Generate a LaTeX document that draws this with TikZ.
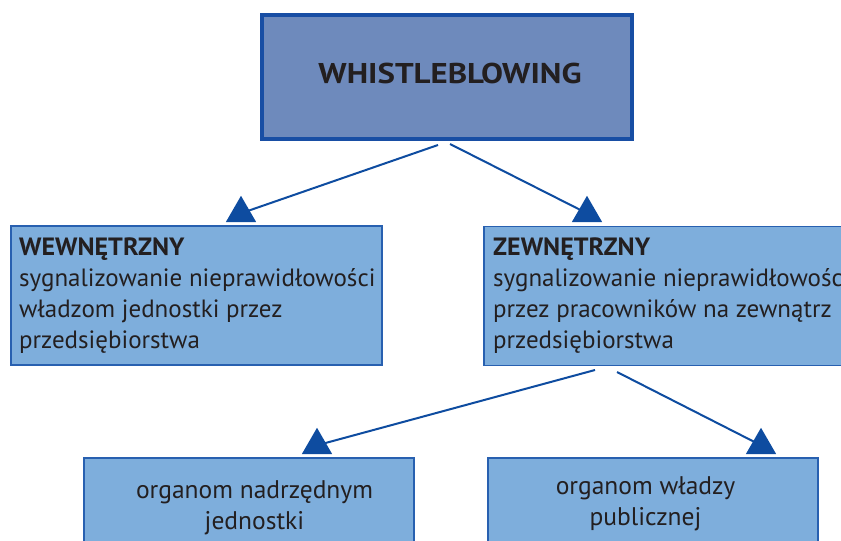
\documentclass[tikz,border=0pt]{standalone}
\usepackage{fontspec}
\setmainfont{PT Sans}
\newfontfamily\titlefont{PT Sans}[FakeStretch=1.15]
\newfontfamily\headfont{PT Sans}[FakeStretch=1.04]
\usetikzlibrary{shapes.geometric}
\definecolor{topfill}{RGB}{110,138,188}
\definecolor{topborder}{RGB}{24,78,164}
\definecolor{boxfill}{RGB}{126,174,220}
\definecolor{boxborder}{RGB}{40,96,176}
\definecolor{arrowcol}{RGB}{14,76,160}
\definecolor{textcol}{RGB}{35,31,32}
\begin{document}
\begin{tikzpicture}[x=1pt,y=-1pt,
  topbox/.style={draw=topborder, line width=4pt, fill=topfill, minimum width=370pt, minimum height=124pt, inner sep=0pt},
  box/.style={draw=boxborder, line width=1.6pt, fill=boxfill, inner sep=0pt},
  txt/.style={text=textcol, inner sep=0pt, font=\fontsize{25}{31}\selectfont},
  tri/.style={regular polygon, regular polygon sides=3, fill=arrowcol, inner sep=0pt, minimum size=35pt},
  conn/.style={draw=arrowcol, line width=2pt}]
\useasboundingbox (0,0) rectangle (841,541);
\clip (0,0) rectangle (841,541);
\fill[white] (0,0) rectangle (841,541);
% boxes
\node[topbox] (top) at (447,77) {};
\node[box, minimum width=371pt, minimum height=139pt] (left) at (196.5,295.5) {};
\node[box, minimum width=371pt, minimum height=139pt] (right) at (669.5,296) {};
\node[box, minimum width=330pt, minimum height=140pt] (bl) at (249,528) {};
\node[box, minimum width=330pt, minimum height=140pt] (br) at (653,528) {};
% texts
\node[txt, font=\titlefont\bfseries\fontsize{28.6}{34}\selectfont, anchor=base] (ttop) at (450,83) {WHISTLEBLOWING};
\node[txt, anchor=north west, align=left] (tleft) at (19,238) {{\headfont\bfseries WEWNĘTRZNY}\\sygnalizowanie nieprawidłowości\\władzom jednostki przez\\przedsiębiorstwa};
\node[txt, anchor=north west, align=left] (tright) at (493,238) {{\headfont\bfseries ZEWNĘTRZNY}\\sygnalizowanie nieprawidłowości\\przez pracowników na zewnątrz\\przedsiębiorstwa};
\node[txt, font=\fontsize{25.5}{31}\selectfont, anchor=north, align=center] (tbl) at (254.5,480.5) {organom nadrzędnym\\jednostki};
\node[txt, font=\fontsize{25.5}{31}\selectfont, anchor=north, align=center] (tbr) at (645.5,476.5) {organom władzy\\publicznej};
% arrow heads
\node[tri] (a1) at (241,213.3) {};
\node[tri] (a2) at (587,213.3) {};
\node[tri] (a3) at (317,445.3) {};
\node[tri] (a4) at (761,445.3) {};
% connector starts
\coordinate (s1) at (438,145);
\coordinate (s2) at (450,144);
\coordinate (s3) at (595,370);
\coordinate (s4) at (617,372);
\draw[conn] (s1) -- (a1.center);
\draw[conn] (s2) -- (a2.center);
\draw[conn] (s3) -- (a3.center);
\draw[conn] (s4) -- (a4.center);
\end{tikzpicture}
\end{document}
